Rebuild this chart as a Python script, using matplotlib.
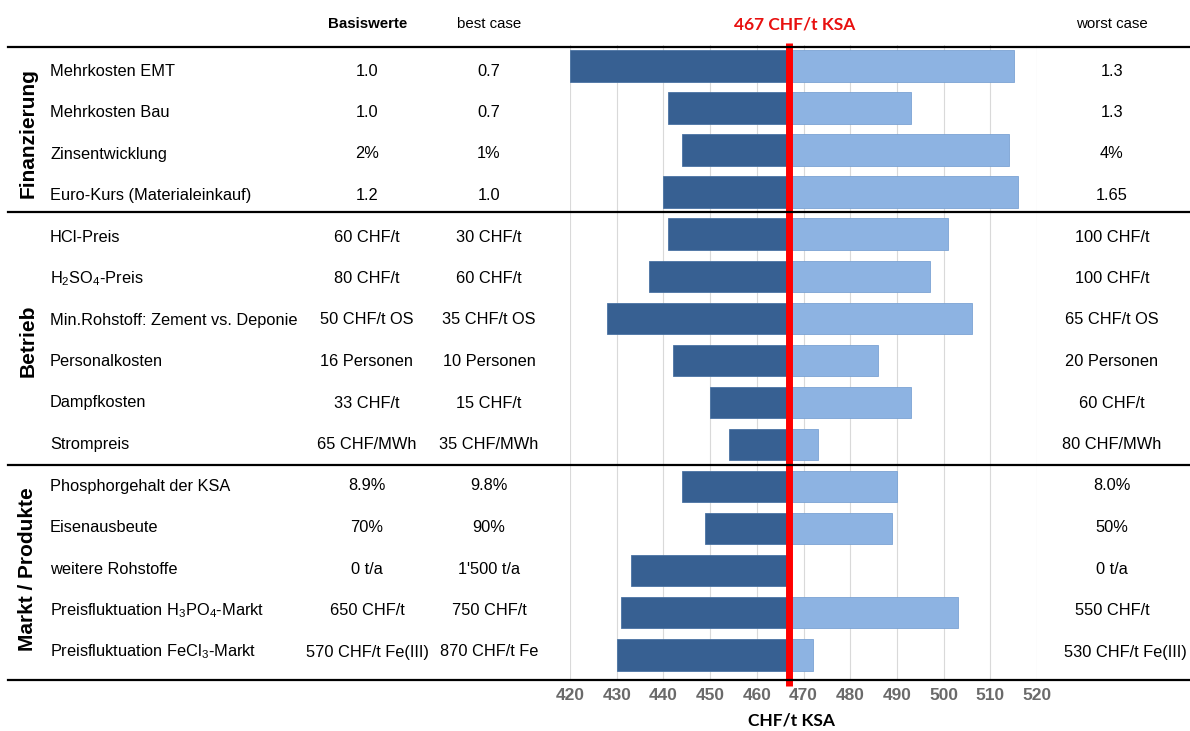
import matplotlib
matplotlib.use("Agg")
import matplotlib.pyplot as plt
from matplotlib.lines import Line2D

plt.rcParams['font.family'] = ['Liberation Sans', 'DejaVu Sans']
plt.rcParams['mathtext.fontset'] = 'custom'
plt.rcParams['mathtext.rm'] = 'Liberation Sans'
plt.rcParams['mathtext.it'] = 'Liberation Sans:italic'
plt.rcParams['mathtext.bf'] = 'Liberation Sans:bold'

# data
labels = ["Mehrkosten EMT", "Mehrkosten Bau", "Zinsentwicklung", "Euro-Kurs (Materialeinkauf)",
          "HCl-Preis", r"$\mathregular{H_2SO_4}$-Preis", "Min.Rohstoff: Zement vs. Deponie",
          "Personalkosten", "Dampfkosten", "Strompreis",
          "Phosphorgehalt der KSA", "Eisenausbeute", "weitere Rohstoffe",
          r"Preisfluktuation $\mathregular{H_3PO_4}$-Markt", r"Preisfluktuation $\mathregular{FeCl_3}$-Markt"]
basis = ["1.0", "1.0", "2%", "1.2", "60 CHF/t", "80 CHF/t", "50 CHF/t OS", "16 Personen",
         "33 CHF/t", "65 CHF/MWh", "8.9%", "70%", "0 t/a", "650 CHF/t", "570 CHF/t Fe(III)"]
best = ["0.7", "0.7", "1%", "1.0", "30 CHF/t", "60 CHF/t", "35 CHF/t OS", "10 Personen",
        "15 CHF/t", "35 CHF/MWh", "9.8%", "90%", "1'500 t/a", "750 CHF/t", "870 CHF/t Fe"]
worst = ["1.3", "1.3", "4%", "1.65", "100 CHF/t", "100 CHF/t", "65 CHF/t OS", "20 Personen",
         "60 CHF/t", "80 CHF/MWh", "8.0%", "50%", "0 t/a", "550 CHF/t", "530 CHF/t Fe(III)"]
low = [420, 441, 444, 440, 441, 437, 428, 442, 450, 454, 444, 449, 433, 431, 430]
high = [515, 493, 514, 516, 501, 497, 506, 486, 493, 473, 490, 489, 467, 503, 472]
base = 467
groups = ["Finanzierung", "Betrieb", "Markt / Produkte"]
group_rows = [(0, 3), (4, 9), (10, 14)]

W, H = 1190, 731
fig = plt.figure(figsize=(W / 100, H / 100), dpi=100)


def fx(x):
    return x / W


def fy(y):
    return 1 - y / H


# bar axes: 420 at x=570px, 520 at x=1037px
ax = fig.add_axes([fx(570), fy(680), (1037 - 570) / W, (680 - 45) / H])
ypos = list(range(len(labels)))
dark = '#376092'
light = '#8DB3E2'
ax.barh(ypos, [base - v for v in low], left=low, height=0.75, color=dark,
        edgecolor='#4A73A3', linewidth=0.6, zorder=2)
ax.barh(ypos, [v - base for v in high], left=base, height=0.75, color=light,
        edgecolor='#7BA3D4', linewidth=0.6, zorder=2)
ax.plot([base, base], [14.75, -0.55], color='#FF0000', lw=5, zorder=4, clip_on=False,
        solid_capstyle='butt')
ax.set_xlim(420, 520)
ax.set_ylim(14.6, -0.5)
ax.set_xticks(range(420, 521, 10))
ax.grid(axis='x', color='#D9D9D9', lw=0.8, zorder=0)
ax.set_axisbelow(True)
ax.set_yticks([])
for s in ax.spines.values():
    s.set_visible(False)
ax.tick_params(axis='x', length=0, pad=6, labelsize=12.5, labelcolor='#6A6A6A')
for t in ax.get_xticklabels():
    t.set_fontweight('bold')

# horizontal separators
for y in [47, 212, 465, 680]:
    fig.add_artist(Line2D([fx(8), fx(1190)], [fy(y), fy(y)], color='black', lw=1.6))

# headers
fig.text(fx(368), fy(24), "Basiswerte", ha='center', va='center', fontsize=10.8, fontweight='bold')
fig.text(fx(489), fy(24), "best case", ha='center', va='center', fontsize=10.8)
fig.text(fx(1112), fy(24), "worst case", ha='center', va='center', fontsize=10.8)
fig.text(fx(795), fy(24), "467 CHF/t KSA", ha='center', va='center', fontsize=12.5,
         fontweight='bold', color='#E8100F', family=['Lato', 'DejaVu Sans'])
fig.text(fx(792), fy(720), "CHF/t KSA", ha='center', va='center', fontsize=12.5,
         fontweight='bold', color='black', family=['Lato', 'DejaVu Sans'])

# table rows
for i in range(len(labels)):
    y = 71 + 41.5 * i
    fig.text(fx(50), fy(y), labels[i], ha='left', va='center', fontsize=11.8)
    fig.text(fx(367), fy(y), basis[i], ha='center', va='center', fontsize=11.8)
    fig.text(fx(489), fy(y), best[i], ha='center', va='center', fontsize=11.8)
    if i == len(labels) - 1:
        fig.text(fx(1064), fy(y), worst[i], ha='left', va='center', fontsize=11.8)
    else:
        fig.text(fx(1112), fy(y), worst[i], ha='center', va='center', fontsize=11.8)

# group labels
for name, (a, b) in zip(groups, group_rows):
    yc = (71 + 41.5 * a + 71 + 41.5 * b) / 2
    fig.text(fx(28), fy(yc), name, ha='center', va='center', rotation=90,
             fontsize=15, fontweight='bold')

fig.savefig("out.png", dpi=100)
